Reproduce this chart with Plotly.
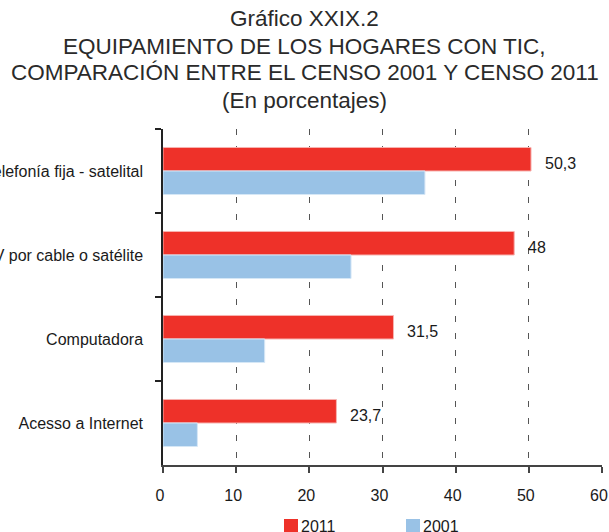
import plotly.graph_objects as go

categories = ["Telefonía fija - satelital", "TV por cable o satélite", "Computadora", "Acesso a Internet"]
values_2011 = [50.3, 48, 31.5, 23.7]
values_2001 = [35.8, 25.7, 13.9, 4.7]
series_names = ["2011", "2001"]
x_ticks = [0, 10, 20, 30, 40, 50, 60]

RED = "#EE3129"
BLUE = "#99C2E6"
FONT = "Liberation Sans, Arial, sans-serif"

W, H = 609, 532
ML, MR, MT, MB = 163, 7, 129, 67
PW, PH = W - ML - MR, H - MT - MB


def fmt(v):
    return str(int(v)) if float(v).is_integer() else str(v).replace(".", ",")


def px_to_paper(px, py):
    return (px - ML) / PW, (H - MB - py) / PH


fig = go.Figure()
fig.add_trace(go.Bar(
    y=categories, x=values_2011, orientation="h", name=series_names[0],
    marker=dict(color=RED, line=dict(color="#F7B3B0", width=1)),
    showlegend=False,
))
fig.add_trace(go.Bar(
    y=categories, x=values_2001, orientation="h", name=series_names[1],
    marker=dict(color=BLUE, line=dict(color="#D6E7F6", width=1)),
    showlegend=False,
))

annotations = []
# value labels next to the 2011 bars
for cat, v in zip(categories, values_2011):
    annotations.append(dict(
        x=v, y=cat, xref="x", yref="y", text=fmt(v), showarrow=False,
        xanchor="left", yanchor="middle", xshift=12, yshift=8,
        font=dict(family=FONT, size=16, color="#1a1a1a"),
    ))

# title block
title_lines = [
    "Gráfico XXIX.2",
    "EQUIPAMIENTO DE LOS HOGARES CON TIC,",
    "COMPARACIÓN ENTRE EL CENSO 2001 Y CENSO 2011",
    "(En porcentajes)",
]
title_y = [18, 46, 73, 100]
for line, py in zip(title_lines, title_y):
    tx, ty = px_to_paper(304.5, py)
    annotations.append(dict(
        x=tx, y=ty, xref="paper", yref="paper",
        xanchor="center", yanchor="middle", text=line, showarrow=False,
        font=dict(family=FONT, size=22.5, color="#2a2a2a"),
    ))

# legend built from swatches and labels
shapes = []
legend_items = [(series_names[0], RED, 284), (series_names[1], BLUE, 406)]
for name, color, sx in legend_items:
    x0, y0 = px_to_paper(sx, 533)
    x1, y1 = px_to_paper(sx + 14, 519)
    shapes.append(dict(type="rect", xref="paper", yref="paper", x0=x0, x1=x1, y0=y0, y1=y1,
                       fillcolor=color, line=dict(width=0)))
    tx, ty = px_to_paper(sx + 15, 526)
    annotations.append(dict(
        x=tx, y=ty, xref="paper", yref="paper", xanchor="left", yanchor="middle",
        text=name, showarrow=False, font=dict(family=FONT, size=16, color="#1a1a1a"),
    ))

fig.update_layout(
    width=W, height=H,
    margin=dict(l=ML, r=MR, t=MT, b=MB, pad=0, autoexpand=False),
    paper_bgcolor="white", plot_bgcolor="white",
    barmode="group", bargap=0.44, bargroupgap=0,
    font=dict(family=FONT, size=16, color="#1a1a1a"),
    annotations=annotations, shapes=shapes,
    showlegend=False,
)
fig.update_xaxes(
    range=[0, 60], tickvals=x_ticks, ticktext=[str(t) for t in x_ticks],
    automargin=False, ticklabeloverflow="allow", ticklabelshift=-3,
    showgrid=True, gridcolor="#555", gridwidth=1, griddash="6px,11px",
    zeroline=False, showline=True, linecolor="#444", linewidth=1.5,
    ticks="outside", ticklen=6, tickcolor="#444", tickwidth=1.5,
    ticklabelstandoff=9, tickfont=dict(size=16),
)
fig.update_yaxes(
    autorange="reversed", type="category", automargin=False,
    showgrid=False, zeroline=False, showline=True, linecolor="#222", linewidth=1.5,
    ticks="outside", tickson="boundaries", ticklen=6, tickcolor="#222", tickwidth=1.5,
    ticklabelstandoff=15, tickfont=dict(size=16),
)

fig.write_html("out.html")
